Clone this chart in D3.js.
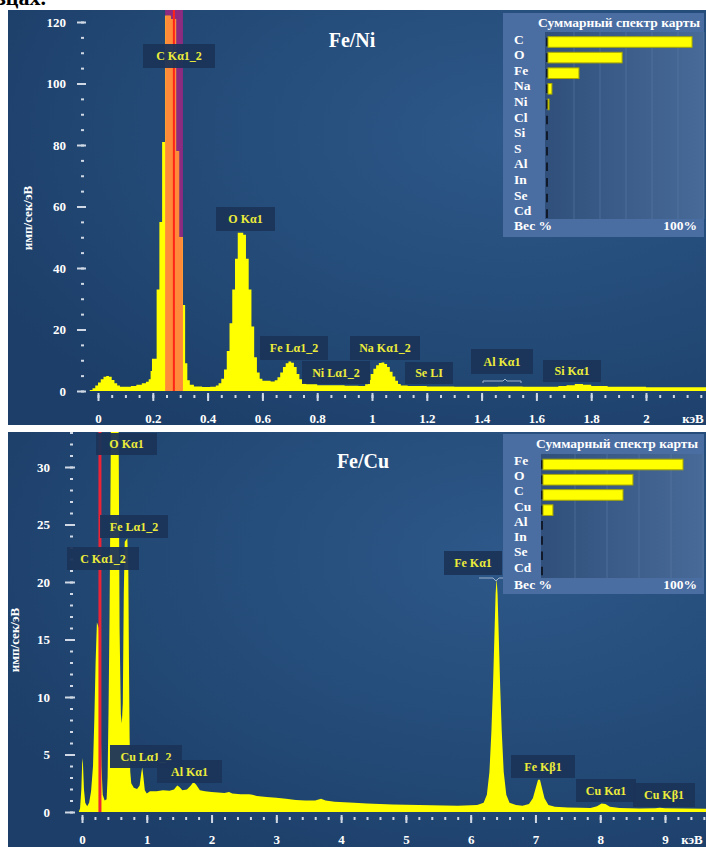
<!DOCTYPE html>
<html>
<head>
<meta charset="utf-8">
<script src="https://cdn.jsdelivr.net/npm/d3@7"></script>
<style>
  html, body { margin: 0; padding: 0; background: #ffffff; }
  svg { display: block; }
</style>
</head>
<body>
<svg id="chart" width="706" height="847"></svg>
<script>
// ---------- Fe/Ni map: EDS sum spectrum (keV, counts per bin) ----------
const niSpectrum = [
  [-0.04,0],[-0.03,0.3],[-0.02,0.9],[-0.01,1.8],[0,2.8],[0.01,3.8],[0.02,4.6],[0.03,4.9],
  [0.04,4.6],[0.05,3.6],[0.06,2.5],[0.07,1.8],[0.08,1.4],[0.1,1.4],[0.12,1.6],[0.14,2.0],
  [0.16,2.5],[0.175,3.0],[0.185,3.8],[0.192,6.5],[0.197,10.5],[0.214,33],[0.224,55],[0.234,81],
  [0.245,122],[0.265,121],[0.285,78],[0.296,50],[0.31,28],[0.318,9],[0.326,3.5],[0.335,2],
  [0.35,1.5],[0.38,1.3],[0.41,1.4],[0.43,1.8],[0.44,2.5],[0.45,4],[0.46,7],[0.47,13],
  [0.48,22],[0.49,33],[0.5,43],[0.51,51.5],[0.53,50.8],[0.54,43],[0.55,33],[0.56,21],
  [0.57,11],[0.58,6],[0.59,4],[0.6,3.3],[0.63,3.1],[0.645,3.5],[0.655,4.5],[0.665,6],
  [0.675,7.8],[0.685,9],[0.695,9.6],[0.705,9.2],[0.715,7.8],[0.725,5.5],[0.735,3.8],[0.745,2.8],
  [0.76,2.2],[0.8,1.9],[0.85,1.9],[0.9,1.7],[0.95,1.6],[0.975,2.2],[0.985,3.6],[0.995,5.5],
  [1.005,7.2],[1.015,8.4],[1.025,9.1],[1.035,9.3],[1.045,8.8],[1.055,7.8],[1.065,6.3],[1.075,4.7],
  [1.085,3.3],[1.095,2.3],[1.105,1.8],[1.13,1.6],[1.2,1.5],[1.3,1.4],[1.4,1.35],[1.46,1.45],
  [1.51,1.5],[1.55,1.35],[1.62,1.35],[1.68,1.6],[1.71,1.9],[1.74,2.3],[1.77,2.0],[1.8,1.6],
  [1.86,1.4],[2.0,1.25],[2.1,1.2],[2.23,1.15]
];
const niXTicks = [0, 0.2, 0.4, 0.6, 0.8, 1, 1.2, 1.4, 1.6, 1.8, 2];
const niYTicks = [0, 20, 40, 60, 80, 100, 120];
const niHighlightKeV = [0.245, 0.31];   // selected C Kα window
const niMarkerKeV = 0.277;              // C Kα line
const niPeakLabels = ["C Kα1_2", "O Kα1", "Fe Lα1_2", "Ni Lα1_2", "Na Kα1_2", "Se LI", "Al Kα1", "Si Kα1"];
const niElements = ["C", "O", "Fe", "Na", "Ni", "Cl", "Si", "S", "Al", "In", "Se", "Cd"];
const niWeights  = [55.4, 28.5, 11.9, 1.5, 0.4, 0, 0, 0, 0, 0, 0, 0];

// ---------- Fe/Cu map: EDS sum spectrum (keV, counts) ----------
const cuSpectrum = [
  [-0.05,0],[-0.03,0.3],[-0.01,2.0],[0.005,4.7],[0.015,4.2],[0.03,2],[0.05,0.8],[0.08,0.5],
  [0.11,0.8],[0.14,1.8],[0.17,4],[0.19,8],[0.21,13],[0.23,16.5],[0.26,16],[0.28,10],
  [0.3,4],[0.32,1.5],[0.35,1.0],[0.38,1.1],[0.395,3],[0.41,9],[0.425,17],[0.44,28],
  [0.455,42],[0.47,48],[0.55,48],[0.565,34],[0.58,16],[0.6,8.5],[0.615,7.7],[0.63,9.5],
  [0.645,19],[0.66,23.5],[0.7,23.8],[0.715,21],[0.725,13],[0.735,6.5],[0.745,3.5],[0.76,2.5],
  [0.8,2.1],[0.85,2.0],[0.89,2.3],[0.915,3.4],[0.93,3.9],[0.945,3.2],[0.97,1.9],[1.0,1.6],
  [1.05,1.8],[1.15,1.8],[1.25,1.9],[1.35,1.85],[1.42,1.95],[1.47,2.3],[1.5,2.2],[1.55,1.9],
  [1.62,1.95],[1.68,2.3],[1.72,2.6],[1.76,2.4],[1.82,1.9],[1.9,1.8],[2.0,1.75],[2.1,1.7],
  [2.2,1.65],[2.27,1.75],[2.32,1.6],[2.45,1.55],[2.58,1.55],[2.63,1.5],[2.7,1.4],[2.85,1.3],
  [3.0,1.25],[3.15,1.15],[3.3,1.05],[3.45,1.0],[3.6,1.0],[3.69,1.15],[3.76,1.0],[3.9,0.9],
  [4.05,0.85],[4.2,0.8],[4.4,0.75],[4.6,0.7],[4.8,0.65],[5.0,0.62],[5.2,0.6],[5.4,0.58],
  [5.6,0.56],[5.8,0.55],[6.0,0.58],[6.1,0.6],[6.2,0.8],[6.25,1.5],[6.29,3.5],[6.32,7],
  [6.345,11],[6.365,15],[6.385,19],[6.4,20.3],[6.415,19],[6.435,15],[6.455,11],[6.48,7],
  [6.51,3.5],[6.55,1.5],[6.6,0.8],[6.7,0.6],[6.8,0.55],[6.9,0.7],[6.96,1.2],[7.0,2.0],
  [7.04,2.8],[7.07,2.8],[7.1,2.1],[7.14,1.2],[7.2,0.6],[7.3,0.45],[7.5,0.4],[7.7,0.38],
  [7.85,0.35],[7.95,0.5],[8.02,0.75],[8.08,0.7],[8.15,0.45],[8.3,0.35],[8.6,0.3],[8.85,0.33],
  [8.92,0.38],[9.0,0.32],[9.3,0.3],[9.7,0.28]
];
const cuXTicks = [0, 1, 2, 3, 4, 5, 6, 7, 8, 9];
const cuYTicks = [0, 5, 10, 15, 20, 25, 30];
const cuMarkerKeV = 0.277;              // C Kα line
const cuPeakLabels = ["O Kα1", "Fe Lα1_2", "C Kα1_2", "Fe Kα1", "Cu Lα1_2", "Al Kα1", "Fe Kβ1", "Cu Kα1", "Cu Kβ1"];
const cuElements = ["Fe", "O", "C", "Cu", "Al", "In", "Se", "Cd"];
const cuWeights  = [43.75, 28.1, 25.0, 3.1, 0, 0, 0, 0];

const legendTitle = "Суммарный спектр карты";
const yAxisTitle = "имп/сек/эВ";
const xUnit = "кэВ";

// ---------- drawing ----------
const SERIF = '"Liberation Serif", "Times New Roman", serif';
const YELLOW = "#ffff00";
const LABEL_YELLOW = "#ecec3a";
const TICK = "#cfd8e4";

const svg = d3.select("#chart");
const defs = svg.append("defs");

// tail of the caption line running above the figure
svg.append("text").attr("x", 46).attr("y", 5).attr("text-anchor", "end")
  .style("font", `bold 22px ${SERIF}`).attr("fill", "#000").text("образцах.");

function radial(id) {
  const g = defs.append("radialGradient").attr("id", id)
    .attr("cx", "72%").attr("cy", "30%").attr("r", "85%");
  g.append("stop").attr("offset", "0%").attr("stop-color", "#2d5889");
  g.append("stop").attr("offset", "55%").attr("stop-color", "#244b78");
  g.append("stop").attr("offset", "100%").attr("stop-color", "#1c3e68");
}
radial("bgNi"); radial("bgCu");

const inner = defs.append("linearGradient").attr("id", "legInner");
inner.append("stop").attr("offset", "0%").attr("stop-color", "#30507b");
inner.append("stop").attr("offset", "100%").attr("stop-color", "#486a98");

function drawPanel(p) {
  const g = svg.append("g");
  const [bx0, by0, bx1, by1] = p.box;
  g.append("rect").attr("x", bx0).attr("y", by0).attr("width", bx1 - bx0).attr("height", by1 - by0)
    .attr("fill", `url(#${p.bg})`);

  // plot clip
  const clipId = "clip-" + p.id;
  defs.append("clipPath").attr("id", clipId).append("rect")
    .attr("x", p.plot[0]).attr("y", by0).attr("width", bx1 - p.plot[0]).attr("height", p.y(0) - by0);

  const plot = g.append("g").attr("clip-path", `url(#${clipId})`);

  if (p.highlight) {
    plot.append("rect")
      .attr("x", p.x(p.highlight[0])).attr("y", by0)
      .attr("width", p.x(p.highlight[1]) - p.x(p.highlight[0]))
      .attr("height", p.y(0) - by0)
      .attr("fill", "#8c2b80");
  }

  const area = d3.area()
    .x(d => p.x(d[0])).y0(p.y(0)).y1(d => p.y(d[1]))
    .curve(p.curve);
  plot.append("path").datum(p.data).attr("d", area).attr("fill", YELLOW);

  if (p.highlight) {
    const hId = "hl-" + p.id;
    defs.append("clipPath").attr("id", hId).append("rect")
      .attr("x", p.x(p.highlight[0])).attr("y", by0)
      .attr("width", p.x(p.highlight[1]) - p.x(p.highlight[0]))
      .attr("height", p.y(0) - by0);
    plot.append("path").datum(p.data).attr("d", area)
      .attr("fill", "#ff8a3a").attr("clip-path", `url(#${hId})`);
  }

  plot.append("line")
    .attr("x1", p.x(p.marker)).attr("x2", p.x(p.marker))
    .attr("y1", by0).attr("y2", p.y(0))
    .attr("stroke", p.markerColor).attr("stroke-width", p.markerWidth);

  // y axis: major and minor dashes
  const yMajor = g.append("g").attr("transform", `translate(${p.yAxisX},0)`)
    .call(d3.axisLeft(p.y).tickValues(p.yTicks).tickSize(p.yMajor).tickPadding(p.yPad)
      .tickFormat(d3.format("d")));
  const yMinor = g.append("g").attr("transform", `translate(${p.yAxisX - 2},0)`)
    .call(d3.axisLeft(p.y).tickValues(p.yMinorTicks).tickSize(3).tickFormat(""));

  // x axis: major and minor ticks
  const xMajor = g.append("g").attr("transform", `translate(0,${p.xAxisY})`)
    .call(d3.axisBottom(p.x).tickValues(p.xTicks).tickSize(8).tickPadding(p.xPad)
      .tickFormat(d => String(+d.toFixed(1))));
  const xMinor = g.append("g").attr("transform", `translate(0,${p.xAxisY + 2})`)
    .call(d3.axisBottom(p.x).tickValues(p.xMinorTicks).tickSize(3).tickFormat(""));

  [yMajor, yMinor, xMajor, xMinor].forEach(a => {
    a.select(".domain").remove();
    a.selectAll("line").attr("stroke", TICK).attr("stroke-width", 2);
    a.selectAll("text").attr("fill", "#ffffff").style("font", `bold 13px ${SERIF}`);
  });

  g.append("text").attr("x", p.unitX).attr("y", p.unitY).attr("text-anchor", "middle")
    .attr("fill", "#fff").style("font", `bold 13px ${SERIF}`).text(xUnit);

  g.append("text")
    .attr("transform", `translate(${p.yTitle[0]},${p.yTitle[1]}) rotate(-90)`)
    .attr("text-anchor", "middle").attr("dy", "0.35em")
    .attr("fill", "#fff").style("font", `bold 13px ${SERIF}`).text(yAxisTitle);

  // pointer brackets under offset labels
  p.pointers.forEach(pt => {
    g.append("path").attr("d", pt).attr("fill", "none").attr("stroke", "#9fb2cc").attr("stroke-width", 1);
  });

  // peak labels
  p.labels.forEach((txt, i) => {
    const b = p.labelBoxes[i];
    g.append("rect").attr("x", b[0]).attr("y", b[1]).attr("width", b[2]).attr("height", b[3])
      .attr("fill", "#1b3459").attr("opacity", 0.95);
    g.append("text").attr("x", b[0] + b[2] / 2).attr("y", b[1] + b[3] / 2 + 4.3)
      .attr("text-anchor", "middle").attr("fill", LABEL_YELLOW)
      .style("font", `bold 12px ${SERIF}`).text(txt);
  });

  // panel title
  g.append("text").attr("x", p.title[0]).attr("y", p.title[1]).attr("text-anchor", "middle")
    .attr("fill", "#fff").style("font", `bold 20px ${SERIF}`).text(p.titleText);

  drawLegend(g, p.legend);
}

function drawLegend(g, L) {
  const [x0, y0, x1, y1] = L.box;
  g.append("rect").attr("x", x0).attr("y", y0).attr("width", x1 - x0).attr("height", y1 - y0)
    .attr("fill", "#4a6da2");
  const [ix0, iy0, ix1, iy1] = L.inner;
  g.append("rect").attr("x", ix0).attr("y", iy0).attr("width", ix1 - ix0).attr("height", iy1 - iy0)
    .attr("fill", "url(#legInner)");

  const xs = d3.scaleLinear().domain([0, L.max]).range(L.range);
  const rows = d3.scalePoint().domain(L.elements).range(L.rows);

  g.append("g").selectAll("line").data(xs.ticks(L.max / 10).filter(t => t > 0))
    .join("line")
    .attr("x1", d => xs(d)).attr("x2", d => xs(d)).attr("y1", iy0).attr("y2", iy1)
    .attr("stroke", "#5d7eaa").attr("stroke-opacity", 0.55).attr("stroke-width", 1);

  const bh = 10.6;
  const bars = g.append("g");
  bars.selectAll("line").data(L.elements).join("line")
    .attr("x1", xs(0) - 1).attr("x2", xs(0) - 1)
    .attr("y1", d => rows(d) - bh / 2 + 1).attr("y2", d => rows(d) + bh / 2 - 1)
    .attr("stroke", "#101a2a").attr("stroke-width", 2);
  bars.selectAll("rect").data(L.elements.map((e, i) => [e, L.values[i]]).filter(d => d[1] > 0))
    .join("rect")
    .attr("x", xs(0)).attr("y", d => rows(d[0]) - bh / 2)
    .attr("width", d => xs(d[1]) - xs(0)).attr("height", bh)
    .attr("fill", YELLOW).attr("stroke", "#a8a800").attr("stroke-width", 1);

  const font = `bold 13.5px ${SERIF}`;
  g.append("g").selectAll("text").data(L.elements).join("text")
    .attr("x", L.labelX).attr("y", d => rows(d) + L.labelDy)
    .attr("fill", "#fff").style("font", font).text(d => d);

  g.append("text").attr("x", L.title[0]).attr("y", L.title[1]).attr("text-anchor", "middle")
    .attr("fill", "#fff").style("font", font).text(legendTitle);
  g.append("text").attr("x", L.labelX).attr("y", L.foot).attr("fill", "#fff").style("font", font).text("Вес %");
  g.append("text").attr("x", 697).attr("y", L.foot).attr("text-anchor", "end")
    .attr("fill", "#fff").style("font", font).text("100%");
}

// scales
const xNi = d3.scaleLinear().domain([0, 2]).range([98, 646]);
const yNi = d3.scaleLinear().domain([0, 120]).range([391, 22]);
const xCu = d3.scaleLinear().domain([0, 9]).range([82, 665]);
const yCu = d3.scaleLinear().domain([0, 30]).range([812, 467]);

drawPanel({
  id: "ni", bg: "bgNi", box: [8, 10, 706, 425], plot: [88],
  x: xNi, y: yNi, data: niSpectrum, curve: d3.curveStepAfter,
  highlight: niHighlightKeV, marker: niMarkerKeV, markerColor: "#ff2418", markerWidth: 2,
  yAxisX: 86, yMajor: 9, yPad: 11, yTicks: niYTicks, yMinorTicks: d3.range(0, 121, 5),
  xAxisY: 393, xPad: 12.5, xTicks: niXTicks, xMinorTicks: d3.range(0, 2.21, 0.05),
  unitX: 693, unitY: 422.7, yTitle: [27, 218],
  title: [352, 47], titleText: "Fe/Ni",
  labels: niPeakLabels,
  labelBoxes: [[143, 44, 72, 24], [216, 207, 59, 24], [260, 336, 68, 24], [302, 361, 68, 23],
               [350, 336, 70, 24], [405, 362, 48, 22], [471, 349, 62, 25], [543, 360, 58, 22]],
  pointers: ["M483,383 V381 H503 L505,379 L507,381 H521 V383"],
  legend: {
    box: [503, 13, 704, 237], inner: [545, 32, 704, 219],
    max: 60, range: [548, 704], elements: niElements, values: niWeights,
    rows: [42, 213.6], labelX: 514, labelDy: 1.5, title: [619, 26.7], foot: 230
  }
});

drawPanel({
  id: "cu", bg: "bgCu", box: [8, 432, 706, 847], plot: [75],
  x: xCu, y: yCu, data: cuSpectrum, curve: d3.curveLinear,
  highlight: null, marker: cuMarkerKeV, markerColor: "#ec2436", markerWidth: 3,
  yAxisX: 75, yMajor: 10, yPad: 15, yTicks: cuYTicks, yMinorTicks: d3.range(0, 34, 1),
  xAxisY: 815, xPad: 11.8, xTicks: cuXTicks, xMinorTicks: d3.range(0, 9.61, 0.2),
  unitX: 692, unitY: 844, yTitle: [14, 640],
  title: [363, 468], titleText: "Fe/Cu",
  labels: cuPeakLabels,
  labelBoxes: [[96, 433, 61, 22], [100, 515, 68, 23], [67, 547, 72, 23], [444, 551, 58, 24],
               [110, 745, 72, 23], [157, 760, 65, 23], [511, 755, 64, 23], [576, 779, 60, 23],
               [633, 783, 62, 24]],
  pointers: ["M479,578 H493 L496,581 L499,578 H505"],
  legend: {
    box: [503, 434, 704, 594], inner: [541, 454, 704, 578],
    max: 50, range: [543, 703], elements: cuElements, values: cuWeights,
    rows: [464.5, 571], labelX: 514, labelDy: 0.5, title: [617, 448], foot: 589
  }
});
</script>
</body>
</html>
